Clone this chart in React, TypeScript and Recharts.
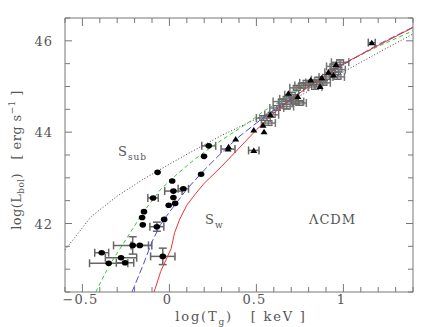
import React from "react";
import { ComposedChart, Scatter, XAxis, YAxis, ErrorBar } from "recharts";

// axis ticks
const X_TICKS = [-0.6, -0.5, -0.4, -0.3, -0.2, -0.1, 0, 0.1, 0.2, 0.3, 0.4, 0.5, 0.6, 0.7, 0.8, 0.9, 1, 1.1, 1.2, 1.3, 1.4];
const X_LABELS: Record<string, string> = { "-0.5": "\u22120.5", "0": "0", "0.5": "0.5", "1": "1" };
const Y_TICKS = [40.5, 41, 41.5, 42, 42.5, 43, 43.5, 44, 44.5, 45, 45.5, 46, 46.5];
const Y_LABELS: Record<string, string> = { "42": "42", "44": "44", "46": "46" };

// groups: filled circles (x, y, ex, ey)
const circles = [
  { x: -0.389, y: 41.36, ex: 0.04 },
  { x: -0.349, y: 41.13, ex: 0.11 },
  { x: -0.278, y: 41.25, ex: 0.09 },
  { x: -0.255, y: 41.14, ex: 0.05 },
  { x: -0.211, y: 41.52, ex: 0.11, ey: 0.19 },
  { x: -0.17, y: 41.52, ex: 0.05 },
  { x: -0.153, y: 41.97 },
  { x: -0.157, y: 42.13 },
  { x: -0.146, y: 42.26 },
  { x: -0.094, y: 42.56, ex: 0.03 },
  { x: -0.072, y: 41.93, ex: 0.04, ey: 0.1 },
  { x: -0.068, y: 43.12 },
  { x: -0.038, y: 41.28, ex: 0.07, ey: 0.18 },
  { x: -0.03, y: 42.09 },
  { x: -0.004, y: 42.4 },
  { x: 0.016, y: 42.93 },
  { x: 0.023, y: 42.71, ex: 0.05 },
  { x: 0.023, y: 42.57 },
  { x: 0.033, y: 42.44 },
  { x: 0.08, y: 42.76, ex: 0.03 },
  { x: 0.182, y: 43.08 },
  { x: 0.199, y: 43.47 },
  { x: 0.226, y: 43.7, ex: 0.04 },
];

// filled triangles
const triangles = [
  { x: 0.337, y: 43.63, ex: 0.04 },
  { x: 0.34, y: 43.68 },
  { x: 0.381, y: 43.85 },
  { x: 0.485, y: 43.6, ex: 0.03 },
  { x: 0.485, y: 44.05 },
  { x: 0.544, y: 44.01 },
  { x: 0.538, y: 44.15 },
  { x: 0.58, y: 44.38 },
  { x: 0.684, y: 44.85 },
  { x: 0.738, y: 44.78 },
  { x: 0.812, y: 45.14 },
  { x: 0.866, y: 45.0 },
  { x: 0.876, y: 45.19 },
  { x: 0.914, y: 45.31 },
  { x: 0.958, y: 45.48 },
  { x: 0.943, y: 45.25 },
  { x: 1.163, y: 45.96, ex: 0.02 },
];

// open squares
const squares = [
  { x: 0.54, y: 44.31, ex: 0.04, ey: 0.05 },
  { x: 0.569, y: 44.2, ex: 0.04, ey: 0.05 },
  { x: 0.588, y: 44.38, ex: 0.04, ey: 0.05 },
  { x: 0.617, y: 44.53, ex: 0.04, ey: 0.05 },
  { x: 0.646, y: 44.67, ex: 0.05, ey: 0.05 },
  { x: 0.674, y: 44.73, ex: 0.04, ey: 0.05 },
  { x: 0.674, y: 44.56, ex: 0.04, ey: 0.05 },
  { x: 0.703, y: 44.82, ex: 0.04, ey: 0.05 },
  { x: 0.722, y: 44.67, ex: 0.05, ey: 0.05 },
  { x: 0.747, y: 44.64, ex: 0.04, ey: 0.05 },
  { x: 0.732, y: 44.97, ex: 0.04, ey: 0.05 },
  { x: 0.761, y: 45.02, ex: 0.04, ey: 0.05 },
  { x: 0.789, y: 45.08, ex: 0.04, ey: 0.05 },
  { x: 0.824, y: 45.09, ex: 0.04, ey: 0.05 },
  { x: 0.837, y: 44.99, ex: 0.04, ey: 0.05 },
  { x: 0.856, y: 45.15, ex: 0.04, ey: 0.05 },
  { x: 0.885, y: 45.08, ex: 0.04, ey: 0.05 },
  { x: 0.9, y: 45.21, ex: 0.04, ey: 0.05 },
  { x: 0.933, y: 45.31, ex: 0.04, ey: 0.05 },
  { x: 0.966, y: 45.21, ex: 0.04, ey: 0.05 },
  { x: 0.971, y: 45.37, ex: 0.04, ey: 0.05 },
  { x: 0.943, y: 45.44, ex: 0.04, ey: 0.05 },
  { x: 0.981, y: 45.53, ex: 0.05, ey: 0.05 },
];

// model curves
const sSub = [
  { x: -0.6, y: 41.42 }, { x: -0.45, y: 42.15 }, { x: -0.3, y: 42.6 }, { x: -0.15, y: 42.97 },
  { x: 0, y: 43.3 }, { x: 0.15, y: 43.62 }, { x: 0.3, y: 43.93 }, { x: 0.45, y: 44.2 },
  { x: 0.6, y: 44.48 }, { x: 0.8, y: 44.9 }, { x: 1.0, y: 45.32 }, { x: 1.2, y: 45.74 }, { x: 1.4, y: 46.15 },
];
const green = [
  { x: -0.423, y: 40.5 }, { x: -0.35, y: 41.05 }, { x: -0.25, y: 41.65 }, { x: -0.15, y: 42.25 },
  { x: -0.05, y: 42.75 }, { x: 0.05, y: 43.1 }, { x: 0.15, y: 43.42 }, { x: 0.25, y: 43.7 },
  { x: 0.35, y: 43.95 }, { x: 0.45, y: 44.2 }, { x: 0.55, y: 44.48 }, { x: 0.7, y: 44.82 },
  { x: 0.85, y: 45.15 }, { x: 1.0, y: 45.5 }, { x: 1.2, y: 45.88 }, { x: 1.4, y: 46.22 },
];
const blue = [
  { x: -0.215, y: 40.5 }, { x: -0.15, y: 41.1 }, { x: -0.1, y: 41.6 }, { x: -0.05, y: 41.98 },
  { x: 0, y: 42.25 }, { x: 0.1, y: 42.75 }, { x: 0.2, y: 43.17 }, { x: 0.3, y: 43.55 },
  { x: 0.4, y: 43.9 }, { x: 0.5, y: 44.2 }, { x: 0.6, y: 44.48 }, { x: 0.7, y: 44.74 },
  { x: 0.8, y: 45.0 }, { x: 1.0, y: 45.48 }, { x: 1.2, y: 45.92 }, { x: 1.4, y: 46.3 },
];
const lcdm = [
  { x: -0.088, y: 40.5 }, { x: -0.05, y: 40.95 }, { x: -0.02, y: 41.2 }, { x: 0.01, y: 41.45 },
  { x: 0.03, y: 41.8 }, { x: 0.06, y: 42.1 }, { x: 0.1, y: 42.4 }, { x: 0.15, y: 42.65 },
  { x: 0.2, y: 42.88 }, { x: 0.3, y: 43.25 }, { x: 0.4, y: 43.65 }, { x: 0.5, y: 44.05 },
  { x: 0.6, y: 44.42 }, { x: 0.7, y: 44.72 }, { x: 0.8, y: 45.0 }, { x: 0.9, y: 45.25 },
  { x: 1.0, y: 45.5 }, { x: 1.2, y: 45.9 }, { x: 1.4, y: 46.29 },
];

const INK = "#555";
const FONT = '"DejaVu Serif", serif';

const isLabeled = (labels: Record<string, string>, v: number) => labels[String(v)] !== undefined;

// ticks point into the plot, like the original
const BottomTick = (p: any) => {
  const v = p.payload.value;
  const major = isLabeled(X_LABELS, v);
  return (
    <g>
      <line x1={p.x} x2={p.x} y1={p.y} y2={p.y - (major ? 8 : 5)} stroke="#777" />
      {major && (
        <text x={p.x - 2} y={p.y + 12} textAnchor="middle" fill={INK} fontSize={13} fontFamily={FONT} letterSpacing={1}>
          {X_LABELS[String(v)]}
        </text>
      )}
    </g>
  );
};
const TopTick = (p: any) => {
  const major = isLabeled(X_LABELS, p.payload.value);
  return <line x1={p.x} x2={p.x} y1={p.y} y2={p.y + (major ? 8 : 5)} stroke="#777" />;
};
const LeftTick = (p: any) => {
  const v = p.payload.value;
  const major = isLabeled(Y_LABELS, v);
  return (
    <g>
      <line x1={p.x} x2={p.x + (major ? 7 : 5)} y1={p.y} y2={p.y} stroke="#777" />
      {major && (
        <text x={p.x - 12} y={p.y + 5} textAnchor="end" fill={INK} fontSize={13} fontFamily={FONT} letterSpacing={1}>
          {Y_LABELS[String(v)]}
        </text>
      )}
    </g>
  );
};
const RightTick = (p: any) => {
  const major = isLabeled(Y_LABELS, p.payload.value);
  return <line x1={p.x} x2={p.x - (major ? 7 : 5)} y1={p.y} y2={p.y} stroke="#777" />;
};

const Dot = (p: any) => <ellipse cx={p.cx} cy={p.cy} rx={3.3} ry={2.8} fill="#000" />;
const Tri = (p: any) => (
  <polygon points={`${p.cx - 3.5},${p.cy + 2.5} ${p.cx + 3.5},${p.cy + 2.5} ${p.cx},${p.cy - 3}`} fill="#000" />
);
const Box = (p: any) => (
  <rect x={p.cx - 3.5} y={p.cy - 2.5} width={7} height={5} fill="none" stroke="#666" strokeWidth={1} />
);
const NoShape = () => <g />;

const textStyle: React.CSSProperties = {
  position: "absolute",
  fontFamily: FONT,
  fontSize: 13,
  color: INK,
  whiteSpace: "nowrap",
  lineHeight: 1,
};
const subStyle: React.CSSProperties = { fontSize: 9, lineHeight: 0 };

export default function App() {
  return (
    <div style={{ position: "relative", width: 428, height: 319 }}>
      <ComposedChart width={428} height={319} margin={{ top: 9, right: 22, bottom: 34, left: 56 }}>
        <XAxis
          xAxisId="b"
          type="number"
          dataKey="x"
          domain={[-0.6, 1.4]}
          allowDataOverflow
          ticks={X_TICKS}
          interval={0}
          height={1}
          tickSize={0}
          tickMargin={0}
          tickLine={false}
          axisLine={{ stroke: "#777" }}
          tick={<BottomTick />}
        />
        <XAxis
          xAxisId="t"
          orientation="top"
          type="number"
          dataKey="x"
          domain={[-0.6, 1.4]}
          allowDataOverflow
          ticks={X_TICKS}
          interval={0}
          height={1}
          tickSize={0}
          tickMargin={0}
          tickLine={false}
          axisLine={{ stroke: "#777" }}
          tick={<TopTick />}
        />
        <YAxis
          yAxisId="l"
          type="number"
          dataKey="y"
          domain={[40.5, 46.5]}
          allowDataOverflow
          ticks={Y_TICKS}
          interval={0}
          width={1}
          tickSize={0}
          tickMargin={0}
          tickLine={false}
          axisLine={{ stroke: "#777" }}
          tick={<LeftTick />}
        />
        <YAxis
          yAxisId="r"
          orientation="right"
          type="number"
          dataKey="y"
          domain={[40.5, 46.5]}
          allowDataOverflow
          ticks={Y_TICKS}
          interval={0}
          width={1}
          tickSize={0}
          tickMargin={0}
          tickLine={false}
          axisLine={{ stroke: "#777" }}
          tick={<RightTick />}
        />
        <Scatter xAxisId="t" yAxisId="r" data={[]} shape={NoShape} isAnimationActive={false} />
        <Scatter xAxisId="b" yAxisId="l" data={sSub} line={{ stroke: "#444", strokeWidth: 1, strokeDasharray: "1 2" }} shape={NoShape} isAnimationActive={false} />
        <Scatter xAxisId="b" yAxisId="l" data={green} line={{ stroke: "#33cc33", strokeWidth: 1, strokeDasharray: "4 3" }} shape={NoShape} isAnimationActive={false} />
        <Scatter xAxisId="b" yAxisId="l" data={blue} line={{ stroke: "#4a4aee", strokeWidth: 1, strokeDasharray: "7 3" }} shape={NoShape} isAnimationActive={false} />
        <Scatter xAxisId="b" yAxisId="l" data={lcdm} line={{ stroke: "#ee3333", strokeWidth: 1 }} shape={NoShape} isAnimationActive={false} />
        <Scatter xAxisId="b" yAxisId="l" data={squares} shape={Box} isAnimationActive={false}>
          <ErrorBar dataKey="ex" direction="x" stroke="#777" width={4} />
          <ErrorBar dataKey="ey" direction="y" stroke="#777" width={4} />
        </Scatter>
        <Scatter xAxisId="b" yAxisId="l" data={circles} shape={Dot} isAnimationActive={false}>
          <ErrorBar dataKey="ex" direction="x" stroke="#666" width={4} />
          <ErrorBar dataKey="ey" direction="y" stroke="#666" width={4} />
        </Scatter>
        <Scatter xAxisId="b" yAxisId="l" data={triangles} shape={Tri} isAnimationActive={false}>
          <ErrorBar dataKey="ex" direction="x" stroke="#666" width={4} />
        </Scatter>
      </ComposedChart>

      <div style={{ ...textStyle, left: 8, top: 152, transform: "translate(-50%, -50%) rotate(-90deg)", letterSpacing: 0.4 }}>
        log(L<sub style={subStyle}>bol</sub>)&nbsp;&nbsp;&nbsp;[ erg s<sup style={subStyle}>−1</sup> ]
      </div>
      <div style={{ ...textStyle, left: 233, top: 302, transform: "translateX(-50%)", letterSpacing: 1.8 }}>
        log(T<sub style={subStyle}>g</sub>)&nbsp;&nbsp;&nbsp;[ keV ]
      </div>
      <div style={{ ...textStyle, left: 110, top: 137, letterSpacing: 1 }}>
        S<sub style={subStyle}>sub</sub>
      </div>
      <div style={{ ...textStyle, left: 197, top: 205, letterSpacing: 1 }}>
        S<sub style={subStyle}>w</sub>
      </div>
      <div style={{ ...textStyle, left: 301, top: 205, letterSpacing: 1 }}>ΛCDM</div>
    </div>
  );
}
